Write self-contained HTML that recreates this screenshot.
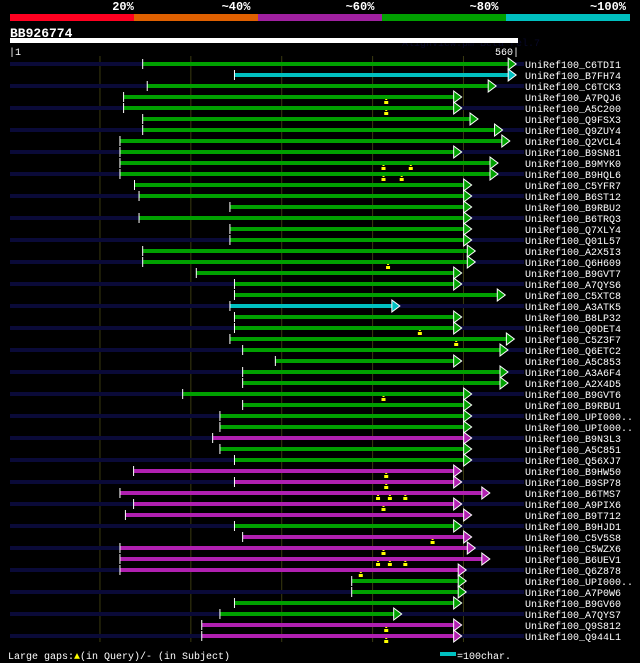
<!DOCTYPE html>
<html><head><meta charset="utf-8"><style>
body{margin:0;background:#000;width:640px;height:663px;overflow:hidden}
svg{display:block;font-family:"Liberation Mono","DejaVu Sans Mono",monospace}
</style></head><body>
<svg id="c" width="640" height="663">
<g>
<text x="123" y="10" fill="#fff" font-size="12" font-weight="bold" text-anchor="middle">20%</text>
<text x="236" y="10" fill="#fff" font-size="12" font-weight="bold" text-anchor="middle">~40%</text>
<text x="360" y="10" fill="#fff" font-size="12" font-weight="bold" text-anchor="middle">~60%</text>
<text x="484" y="10" fill="#fff" font-size="12" font-weight="bold" text-anchor="middle">~80%</text>
<text x="608" y="10" fill="#fff" font-size="12" font-weight="bold" text-anchor="middle">~100%</text>
<rect x="10" y="14" width="124" height="7" fill="#ff0020"/>
<rect x="134" y="14" width="124" height="7" fill="#e06000"/>
<rect x="258" y="14" width="124" height="7" fill="#a020a0"/>
<rect x="382" y="14" width="124" height="7" fill="#00a000"/>
<rect x="506" y="14" width="124" height="7" fill="#00c0c0"/>
</g>
<text x="10" y="37" fill="#fff" font-size="13" font-weight="bold">BB926774</text>
<text x="402" y="46" fill="#080828" font-size="10">AlignView.pm Beta rel.7</text>
<rect x="10" y="38" width="508" height="5" fill="#fff"/>
<text x="9" y="55" fill="#fff" font-size="10">|1</text>
<text x="519" y="55" fill="#fff" font-size="10" text-anchor="end">560|</text>
<g id="grid"></g><g id="rows"></g>
<text x="8" y="659" fill="#fff" font-size="10">Large gaps:<tspan fill="#ff0">▲</tspan>(in Query)/- (in Subject)</text>
<line x1="440" y1="654" x2="456" y2="654" stroke="#00c0c0" stroke-width="4"/>
<text x="457" y="659" fill="#fff" font-size="10">=100char.</text>
</svg>
<script>
const names=["C6TDI1","B7FH74","C6TCK3","A7PQJ6","A5C200","Q9FSX3","Q9ZUY4","Q2VCL4","B9SN81","B9MYK0","B9HQL6","C5YFR7","B6ST12","B9RBU2","B6TRQ3","Q7XLY4","Q01L57","A2X5I3","Q6H609","B9GVT7","A7QYS6","C5XTC8","A3ATK5","B8LP32","Q0DET4","C5Z3F7","Q6ETC2","A5C853","A3A6F4","A2X4D5","B9GVT6","B9RBU1","UPI000..","UPI000..","B9N3L3","A5C851","Q56XJ7","B9HW50","B9SP78","B6TMS7","A9PIX6","B9T712","B9HJD1","C5V5S8","C5WZX6","B6UEV1","Q6Z878","UPI000..","A7P0W6","B9GV60","A7QYS7","Q9S812","Q944L1"];
const starts=[147,248,152,126,126,147,147,122,122,122,122,138,143,243,143,243,243,147,147,206,248,248,243,248,248,243,257,293,257,257,191,257,232,232,224,232,248,137,248,122,137,128,248,257,122,122,122,377,377,248,232,212,212];
const ends=[558,558,536,498,498,516,543,551,498,538,538,509,509,509,509,509,509,513,513,498,498,546,430,498,498,556,549,498,549,549,509,509,509,509,509,509,509,498,498,529,498,509,498,509,513,529,503,503,503,498,432,498,498];
const colors=["g","c","g","g","g","g","g","g","g","g","g","g","g","g","g","g","g","g","g","g","g","g","c","g","g","g","g","g","g","g","g","g","g","g","m","g","g","m","m","m","m","m","g","m","m","m","m","g","g","g","g","m","m"];
const gaps=[[],[],[],[415],[415],[],[],[],[],[412,442],[412,432],[],[],[],[],[],[],[],[417],[],[],[],[],[],[452],[492],[],[],[],[],[412],[],[],[],[],[],[],[415],[415],[406,419,436],[412],[],[],[466],[412],[406,419,436],[387],[],[],[],[],[415],[415]];
const ticks=[100,200,300,400,500];
const X=p=>10+(p-1)*508/559, Y=i=>64+i*11;
const col={g:"#00a000",c:"#00c0c0",m:"#b020b0"};
const NS="http://www.w3.org/2000/svg";
function mk(t,a,parent){const e=document.createElementNS(NS,t);for(const k in a)e.setAttribute(k,a[k]);parent.appendChild(e);return e;}
const grid=document.getElementById('grid'),rows=document.getElementById('rows');
ticks.forEach(t=>{const l=mk('line',{x1:X(t),x2:X(t),y1:56,y2:642,stroke:'#3a3a10','stroke-width':1},grid);

});
names.forEach((n,i)=>{const y=Y(i);const g=mk('g',{},rows);


if(i%2===0)mk('line',{x1:10,x2:524,y1:y,y2:y,stroke:'#0a0a38','stroke-width':4},g);
const x1=X(starts[i]),x2=X(ends[i]),c=col[colors[i]];
const bar=mk('rect',{x:x1,y:y-2,width:x2-x1-7,height:4,fill:c},g);


mk('line',{x1:x1,x2:x1,y1:y-5,y2:y+5,stroke:'#fff','stroke-width':1},g);
mk('polygon',{points:`${x2-8},${y-6} ${x2},${y} ${x2-8},${y+6}`,fill:c,stroke:'#fff','stroke-width':1},g);
gaps[i].forEach(p=>{const gx=X(p);mk('rect',{x:gx-1,y:y+2,width:2,height:1,fill:'#ff0'},g);mk('rect',{x:gx-2,y:y+4,width:4,height:3,fill:'#ff0'},g);});
const t=mk('text',{x:525,y:y+4,fill:'#fff','font-size':10},g);t.textContent='UniRef100_'+n;


});
</script>
</body></html>
